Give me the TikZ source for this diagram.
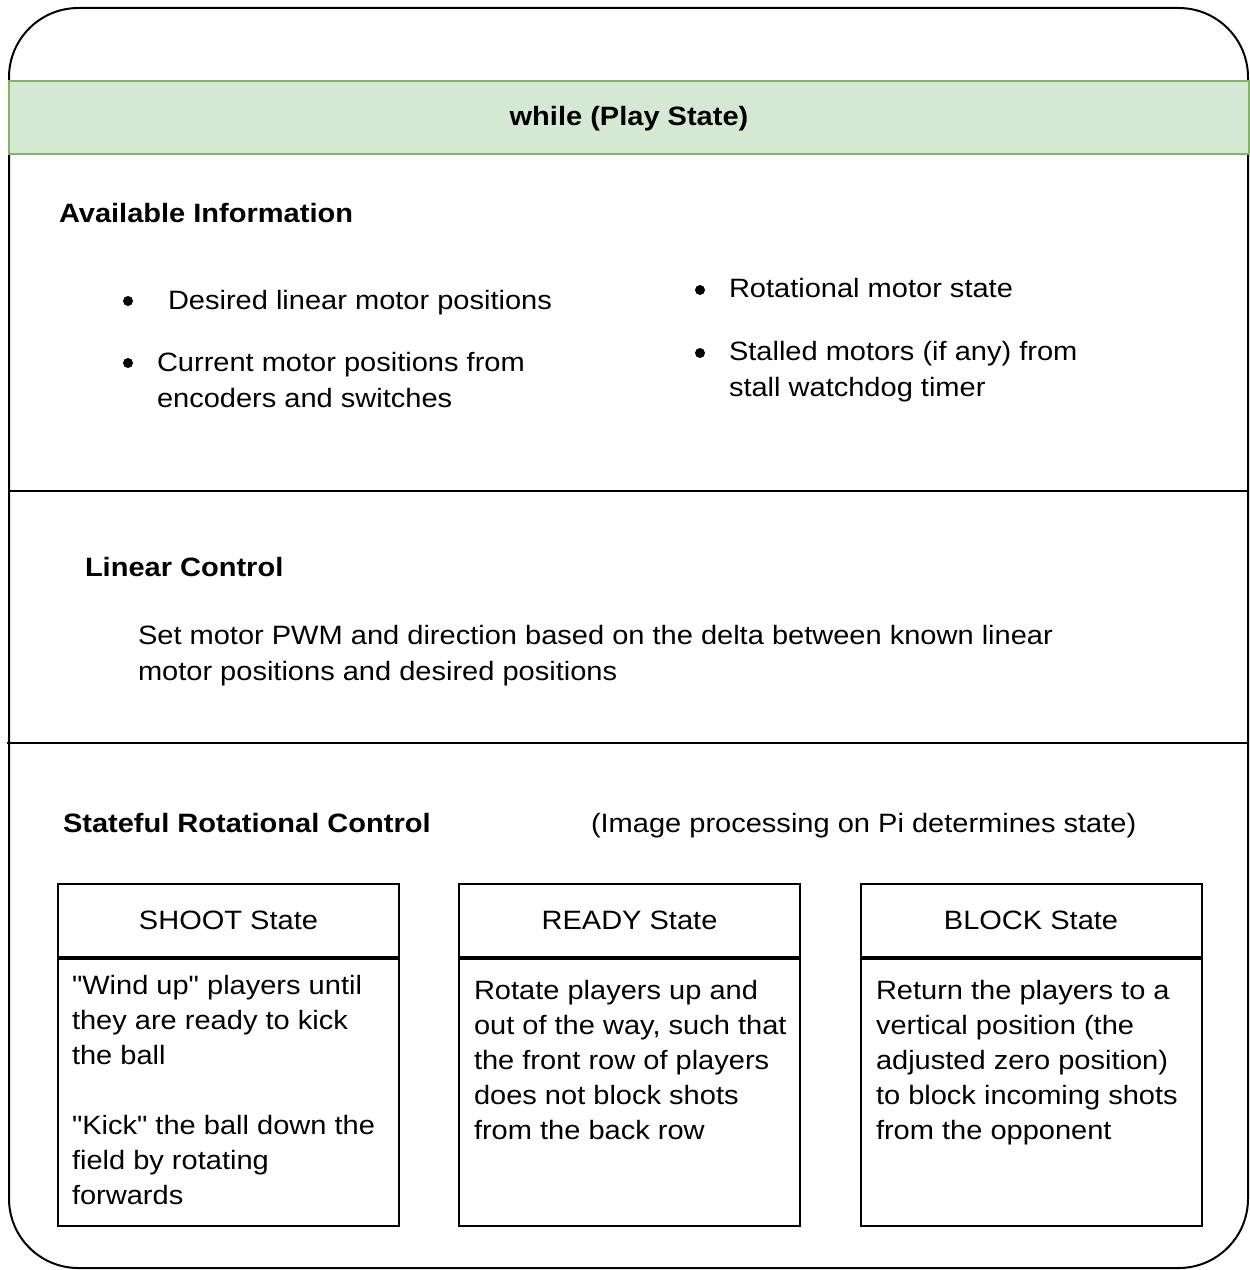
\documentclass[tikz,border=0pt]{standalone}
\usepackage{fontspec}
\setmainfont{Liberation Sans}[FakeStretch=1.094,Ligatures=TeXOff]
\usetikzlibrary{positioning}
\definecolor{bandfill}{HTML}{D5E8D4}
\definecolor{bandline}{HTML}{82B366}

\begin{document}
\begin{tikzpicture}[x=0.75pt,y=-0.75pt,line width=1.5pt]
	\tikzstyle{txt}=[anchor=base west,inner sep=0pt,align=left,font=\fontsize{19.9pt}{27pt}\selectfont]
	\tikzstyle{head}=[txt,font=\fontsize{19.9pt}{27pt}\selectfont\bfseries]
	\tikzstyle{boxtxt}=[txt,font=\fontsize{19.9pt}{26.25pt}\selectfont]
	\tikzstyle{bulletdot}=[circle,fill,inner sep=0pt,minimum size=7.5pt]
	\tikzstyle{statehead}=[draw,inner sep=0pt,minimum width=255.75pt,minimum height=54.75pt,font=\fontsize{19.9pt}{26.25pt}\selectfont]
	\tikzstyle{statebody}=[draw,inner sep=0pt,minimum width=255.75pt,minimum height=200.25pt]

	\useasboundingbox (0,0) rectangle (1249,1270);

	% frame and sections
	\draw[rounded corners=52pt] (9,8) rectangle (1248,1268);
	\draw[bandline,fill=bandfill] (9,81) rectangle (1249,154);
	\node[head,anchor=base] (loop) at (629,125) {while (Play State)};
	\draw (9,491) -- (1249,491);
	\draw (7,743) -- (1249,743);

	% available information (multi-line texts sit on their last baseline)
	\node[head] (info) at (58,222) {Available Information};
	\node[bulletdot] (b1) at (128,301) {};
	\node[txt] (desired) at (167,309) {Desired linear motor positions};
	\node[bulletdot] (b2) at (128,363) {};
	\node[txt] (current) at (156,407) {Current motor positions from\\encoders and switches};
	\node[bulletdot] (b3) at (700,290) {};
	\node[txt] (rotstate) at (728,297) {Rotational motor state};
	\node[bulletdot] (b4) at (700,353) {};
	\node[txt] (stalled) at (728,396) {Stalled motors (if any) from\\stall watchdog timer};

	% linear control
	\node[head] (linear) at (84,576) {Linear Control};
	\node[txt] (pwm) at (137,680) {Set motor PWM and direction based on the delta between known linear\\motor positions and desired positions};

	% rotational control
	\node[head] (rotational) at (62,832) {Stateful Rotational Control};
	\node[txt] (pi) at (590,832) {(Image processing on Pi determines state)};

	\node[statehead] (shoot) at (228.5,920.5) {SHOOT State};
	\node[statebody,below=0pt of shoot] (shootbody) {};
	\node[boxtxt] (shoottext) at (71,1204) {"Wind up" players until\\they are ready to kick\\the ball\\[26.25pt]"Kick" the ball down the\\field by rotating\\forwards};

	\node[statehead] (ready) at (629.5,920.5) {READY State};
	\node[statebody,below=0pt of ready] (readybody) {};
	\node[boxtxt] (readytext) at (473,1139) {Rotate players up and\\out of the way, such that\\the front row of players\\does not block shots\\from the back row};

	\node[statehead] (block) at (1031,920.5) {BLOCK State};
	\node[statebody,below=0pt of block] (blockbody) {};
	\node[boxtxt] (blocktext) at (875,1139) {Return the players to a\\vertical position (the\\adjusted zero position)\\to block incoming shots\\from the opponent};
\end{tikzpicture}
\end{document}
